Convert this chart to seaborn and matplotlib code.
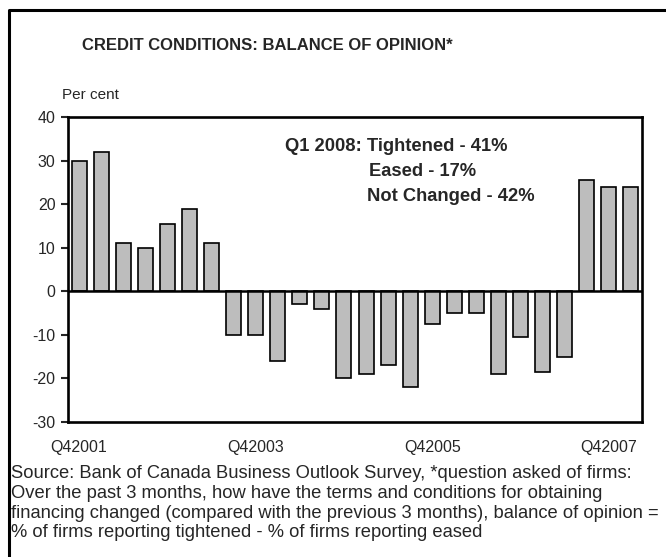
import matplotlib
matplotlib.use("Agg")
import matplotlib.pyplot as plt
from matplotlib.lines import Line2D
import seaborn as sns
import pandas as pd

# Quarterly balance of opinion on credit conditions (per cent)
quarters = [
    "Q42001",
    "Q12002", "Q22002", "Q32002", "Q42002",
    "Q12003", "Q22003", "Q32003", "Q42003",
    "Q12004", "Q22004", "Q32004", "Q42004",
    "Q12005", "Q22005", "Q32005", "Q42005",
    "Q12006", "Q22006", "Q32006", "Q42006",
    "Q12007", "Q22007", "Q32007", "Q42007",
    "Q12008",
]
balance = [
    30, 32, 11, 10, 15.5, 19, 11,
    -10, -10, -16, -3, -4,
    -20, -19, -17, -22, -7.5, -5, -5,
    -19, -10.5, -18.5, -15,
    25.5, 24, 24,
]
labelled_quarters = ["Q42001", "Q42003", "Q42005", "Q42007"]
y_ticks = [-30, -20, -10, 0, 10, 20, 30, 40]

title = "CREDIT CONDITIONS: BALANCE OF OPINION*"
note_lines = ["Q1 2008: Tightened - 41%", "Eased - 17%", "Not Changed - 42%"]
source_lines = [
    "Source: Bank of Canada Business Outlook Survey, *question asked of firms:",
    "Over the past 3 months, how have the terms and conditions for obtaining",
    "financing changed (compared with the previous 3 months), balance of opinion =",
    "% of firms reporting tightened - % of firms reporting eased",
]

sns.set_style("white")
plt.rcParams["font.family"] = ["Liberation Sans", "DejaVu Sans"]

df = pd.DataFrame({"quarter": quarters, "balance": balance})

W, H = 666, 557
fig = plt.figure(figsize=(W / 100, H / 100), dpi=100)
ax = fig.add_axes([68 / W, 1 - 422 / H, 574 / W, 305 / H])


def px(x, y):
    """Pixel position (origin top-left) to figure fraction."""
    return x / W, 1 - y / H


sns.barplot(data=df, x="quarter", y="balance", order=quarters,
            color="#bdbdbd", saturation=1, width=0.68,
            edgecolor="black", linewidth=1.2, ax=ax)

ax.set_ylim(-30, 40)
ax.set_xlim(-0.5, len(quarters) - 0.5)
ax.set_yticks(y_ticks)
ax.set_yticklabels([str(t) for t in y_ticks], fontsize=11.5)
ax.set_xticks([quarters.index(q) for q in labelled_quarters])
ax.set_xticklabels(labelled_quarters, fontsize=11.5)
ax.tick_params(axis="x", length=0, pad=13)
ax.tick_params(axis="y", length=5, width=1.5, pad=4, left=True)
ax.set_xlabel("")
ax.set_ylabel("")
ax.axhline(0, color="black", lw=1.8, zorder=5)
for side in ["left", "right", "top", "bottom"]:
    ax.spines[side].set_visible(True)
    ax.spines[side].set_color("black")
    ax.spines[side].set_linewidth(1.9)

# Summary of the latest survey
for txt, (xp, yp) in zip(note_lines, [(285, 147), (369, 172), (367, 196)]):
    fig.text(*px(xp, yp), txt, fontsize=13.2, fontweight="bold",
             va="center", ha="left")

fig.text(*px(267.5, 45), title, fontsize=12, fontweight="bold",
         ha="center", va="center")
fig.text(*px(62, 95), "Per cent", fontsize=11, ha="left", va="center")

for i, line in enumerate(source_lines):
    fig.text(*px(11, 474 + 19.5 * i), line, fontsize=13.2,
             ha="left", va="center")

# Outer frame (left and top edges)
fig.add_artist(Line2D([8.5 / W, 8.5 / W, 1.01], [-0.01, 1 - 10 / H, 1 - 10 / H],
                      transform=fig.transFigure, color="black", lw=2.2))

fig.savefig("out.png", dpi=100)
